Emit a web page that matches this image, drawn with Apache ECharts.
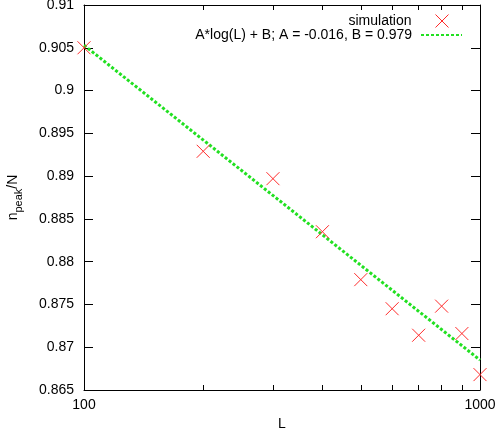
<!DOCTYPE html>
<html>
<head>
<meta charset="utf-8">
<script src="https://cdn.jsdelivr.net/npm/echarts@6/dist/echarts.min.js"></script>
<style>
html,body{margin:0;padding:0;background:#fff;}
#c{width:498px;height:432px;}
</style>
</head>
<body>
<div id="c"></div>
<script>
var L = [100, 200, 300, 400, 500, 600, 700, 800, 900, 1000];
var simulation = [0.9050, 0.8929, 0.8897, 0.8835, 0.8779, 0.8745, 0.8714, 0.8748, 0.8716, 0.8668];
var fitL = [100, 1000];
var fitV = [0.9053, 0.8685];
var xLabelValues = [100, 1000];
var xMinorTicks = [200, 300, 400, 500, 600, 700, 800, 900];
var fitName = 'A*log(L) + B; A = -0.016, B = 0.979';
var simName = 'simulation';

var FONT = 'Liberation Sans';
var chart = echarts.init(document.getElementById('c'), null, {renderer: 'canvas'});
var xCommon = {
  type: 'log', logBase: 10, min: 100, max: 1000,
  axisLine: {show: true, onZero: false, lineStyle: {color: '#000', width: 1}},
  splitLine: {show: false},
  minorTick: {show: false}
};
var yCommon = {
  type: 'value', min: 0.865, max: 0.91, interval: 0.005,
  axisLine: {show: true, onZero: false, lineStyle: {color: '#000', width: 1}},
  axisTick: {show: true, inside: true, length: 9, lineStyle: {color: '#000'}},
  splitLine: {show: false}
};
chart.setOption({
  animation: false,
  grid: {left: 84, right: 18, top: 5, bottom: 42, containLabel: false, outerBoundsMode: 'none'},
  legend: [
    {
      data: [simName], right: 44, top: 9, orient: 'vertical', align: 'right',
      itemWidth: 13, itemHeight: 13, padding: 5, selectedMode: false,
      itemStyle: {borderWidth: 1, borderColor: '#ff2a2a', color: 'rgba(255,255,255,0)'},
      textStyle: {fontFamily: FONT, fontSize: 14, color: '#000', padding: [0, 19, 0, 0]}
    },
    {
      data: [fitName], right: 30, top: 23, orient: 'vertical', align: 'right',
      itemWidth: 41, itemHeight: 14, padding: 5, selectedMode: false,
      itemStyle: {opacity: 0},
      textStyle: {fontFamily: FONT, fontSize: 14, color: '#000', padding: [0, 4, 0, 0]}
    }
  ],
  xAxis: [
    Object.assign({}, xCommon, {
      position: 'bottom',
      name: 'L', nameLocation: 'middle', nameGap: 27,
      nameTextStyle: {fontFamily: FONT, fontSize: 14, color: '#000'},
      axisTick: {show: true, inside: true, length: 5, customValues: xMinorTicks, lineStyle: {color: '#000'}},
      axisLabel: {show: true, customValues: xLabelValues, margin: 8, fontFamily: FONT, fontSize: 14, color: '#000',
        showMinLabel: true, showMaxLabel: true, formatter: function (v) { return String(Math.round(v)); }}
    }),
    Object.assign({}, xCommon, {
      position: 'top',
      axisTick: {show: true, inside: true, length: 5, customValues: xMinorTicks, lineStyle: {color: '#000'}},
      axisLabel: {show: false}
    })
  ],
  yAxis: [
    Object.assign({}, yCommon, {
      position: 'left',
      name: '{n|n}{s|peak}{n|/N}', nameLocation: 'middle', nameGap: 64, nameRotate: 90,
      nameTextStyle: {
        rich: {
          n: {fontFamily: FONT, fontSize: 14, color: '#000', verticalAlign: 'bottom', lineHeight: 18},
          s: {fontFamily: FONT, fontSize: 11, color: '#000', verticalAlign: 'bottom', lineHeight: 11, padding: [0, 0, -4, 0]}
        }
      },
      axisLabel: {show: true, margin: 10, fontFamily: FONT, fontSize: 14, color: '#000',
        formatter: function (v) { return String(parseFloat(v.toFixed(3))); }}
    }),
    Object.assign({}, yCommon, {
      position: 'right',
      axisLabel: {show: false}
    })
  ],
  series: [
    {
      name: fitName, type: 'line', xAxisIndex: 0, yAxisIndex: 0,
      data: fitL.map(function (x, i) { return [x, fitV[i]]; }),
      showSymbol: false, symbol: 'none', z: 2, silent: true,
      emphasis: {disabled: true},
      lineStyle: {color: '#22e022', width: 3, type: [3, 2]},
      itemStyle: {color: '#22e022'}
    },
    {
      name: simName, type: 'scatter', xAxisIndex: 0, yAxisIndex: 0,
      data: L.map(function (x, i) { return [x, simulation[i]]; }),
      symbol: 'path://M0,0L10,10M10,0L0,10', symbolSize: 13, z: 3, silent: true,
      emphasis: {disabled: true},
      itemStyle: {color: 'rgba(255,255,255,0)', borderColor: '#ff2a2a', borderWidth: 1, opacity: 1}
    }
  ]
});
</script>
</body>
</html>
